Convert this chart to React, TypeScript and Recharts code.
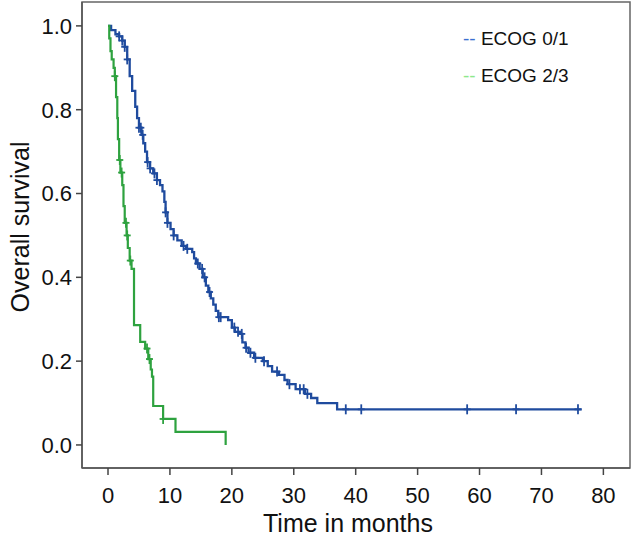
import React from 'react';
import { ComposedChart, Line, Scatter, XAxis, YAxis, ReferenceArea } from 'recharts';

// ---- Data (Kaplan–Meier estimates) ----
const xTicks = [0, 10, 20, 30, 40, 50, 60, 70, 80];
const yTicks = [0, 0.2, 0.4, 0.6, 0.8, 1.0];

const ecog01Times = [0, 0.5, 1.2, 1.8, 2.3, 2.7, 3.1, 3.5, 3.9, 4.4, 4.7, 5.0, 5.4, 5.7, 6.0, 6.3, 6.8, 7.3, 7.9, 8.4, 8.8, 9.1, 9.3, 9.6, 10.1, 10.6, 11.2, 11.9, 12.6, 13.6, 13.9, 14.2, 14.8, 15.3, 15.8, 16.2, 16.6, 17.0, 17.4, 17.8, 19.4, 20.0, 20.5, 21.4, 21.7, 22.2, 22.7, 23.6, 25.0, 25.8, 26.5, 27.6, 28.5, 29.0, 30.3, 31.8, 32.8, 33.8, 37.0, 76.5];
const ecog01Survival = [1.0, 0.99, 0.98, 0.975, 0.965, 0.95, 0.92, 0.88, 0.845, 0.807, 0.78, 0.757, 0.74, 0.72, 0.70, 0.675, 0.66, 0.648, 0.632, 0.62, 0.605, 0.58, 0.555, 0.53, 0.515, 0.50, 0.488, 0.475, 0.468, 0.46, 0.445, 0.433, 0.42, 0.40, 0.38, 0.365, 0.35, 0.335, 0.32, 0.305, 0.298, 0.28, 0.27, 0.265, 0.245, 0.232, 0.22, 0.208, 0.20, 0.188, 0.175, 0.167, 0.155, 0.145, 0.133, 0.122, 0.112, 0.10, 0.085, 0.085];
const ecog01Censored = [1.8, 2.3, 2.7, 3.1, 5.0, 5.3, 5.6, 6.4, 6.8, 7.5, 7.9, 9.3, 9.6, 10.6, 12.2, 12.8, 14.5, 15.2, 15.6, 16.4, 17.9, 18.2, 20.4, 21.0, 21.6, 22.3, 23.0, 23.8, 25.2, 27.3, 29.3, 31.0, 31.6, 32.2, 38.4, 40.9, 58.0, 65.9, 75.9];

const ecog23Times = [0, 0.2, 0.4, 0.6, 0.9, 1.1, 1.3, 1.5, 1.6, 1.8, 2.0, 2.3, 2.5, 2.7, 3.0, 3.2, 3.5, 3.8, 4.2, 5.2, 6.0, 6.5, 6.9, 7.1, 7.3, 8.9, 10.9, 19.0];
const ecog23Survival = [1.0, 0.97, 0.94, 0.92, 0.90, 0.88, 0.83, 0.78, 0.73, 0.68, 0.65, 0.62, 0.57, 0.53, 0.50, 0.47, 0.44, 0.42, 0.286, 0.246, 0.23, 0.205, 0.18, 0.163, 0.093, 0.062, 0.031, 0.0];
const ecog23Censored = [1.1, 1.9, 2.2, 2.9, 3.1, 3.6, 6.3, 6.7, 8.9];

const seriesNames = ['ECOG 0/1', 'ECOG 2/3'];

// ---- Build tables ----
const toSteps = (times: number[], surv: number[]) => times.map((t, i) => ({ t, s: surv[i] }));
const survAt = (times: number[], surv: number[], t: number) => {
  let v = surv[0];
  for (let i = 0; i < times.length; i++) if (times[i] <= t) v = surv[i];
  return v;
};
const toCensor = (times: number[], surv: number[], cens: number[]) =>
  cens.map((t) => ({ t, s: survAt(times, surv, t) }));

const blueSteps = toSteps(ecog01Times, ecog01Survival);
const greenSteps = toSteps(ecog23Times, ecog23Survival);
const blueCensor = toCensor(ecog01Times, ecog01Survival, ecog01Censored);
const greenCensor = toCensor(ecog23Times, ecog23Survival, ecog23Censored);

const BLUE = '#1f4b9e';
const GREEN = '#2ea23f';
const FONT = '"Liberation Sans", Arial, Helvetica, sans-serif';

const makeCross = (color: string) => (props: any) => {
  const { cx, cy } = props;
  if (cx == null || cy == null) return <g />;
  return (
    <g>
      <line x1={cx} y1={cy - 5} x2={cx} y2={cy + 5} stroke={color} strokeWidth={1.8} />
      <line x1={cx - 3.5} y1={cy} x2={cx + 3.5} y2={cy} stroke={color} strokeWidth={1.8} />
    </g>
  );
};

export default function App() {
  return (
    <div style={{ position: 'absolute', left: 0, top: 0, background: '#fff' }}>
      <ComposedChart
        width={642}
        height={541}
        margin={{ top: 2, right: 12, bottom: 33, left: 0 }}
        style={{ fontFamily: FONT }}
      >
        <XAxis
          type="number"
          dataKey="t"
          domain={[-4.2, 84.3]}
          ticks={xTicks}
          allowDataOverflow
          height={40}
          tickSize={7}
          tickMargin={12}
          axisLine={{ stroke: '#555', strokeWidth: 1.5 }}
          tickLine={{ stroke: '#444', strokeWidth: 1.5 }}
          tick={{ fontSize: 22, fill: '#111', fontFamily: FONT }}
        />
        <YAxis
          type="number"
          domain={[-0.055, 1.057]}
          ticks={yTicks}
          allowDataOverflow
          width={82}
          tickSize={6}
          tickMargin={4}
          tickFormatter={(v: number) => v.toFixed(1)}
          axisLine={{ stroke: '#555', strokeWidth: 1.5 }}
          tickLine={{ stroke: '#444', strokeWidth: 1.5 }}
          tick={{ fontSize: 22, fill: '#111', fontFamily: FONT }}
        />
        <ReferenceArea
          x1={-4.2}
          x2={84.3}
          y1={-0.055}
          y2={1.057}
          ifOverflow="visible"
          fill="none"
          fillOpacity={0}
          stroke="#666"
          strokeWidth={1.5}
        />
        <Line
          data={blueSteps}
          dataKey="s"
          type="stepAfter"
          stroke={BLUE}
          strokeWidth={2.3}
          dot={false}
          isAnimationActive={false}
          name={seriesNames[0]}
        />
        <Line
          data={greenSteps}
          dataKey="s"
          type="stepAfter"
          stroke={GREEN}
          strokeWidth={2.2}
          dot={false}
          isAnimationActive={false}
          name={seriesNames[1]}
        />
        <Scatter data={blueCensor} dataKey="s" shape={makeCross(BLUE)} isAnimationActive={false} />
        <Scatter data={greenCensor} dataKey="s" shape={makeCross(GREEN)} isAnimationActive={false} />
        <text x={348} y={532} textAnchor="middle" fontSize={25} fill="#111" fontFamily={FONT}>
          Time in months
        </text>
        <text
          x={29}
          y={227}
          transform="rotate(-90 29 227)"
          textAnchor="middle"
          fontSize={25}
          fill="#111"
          fontFamily={FONT}
        >
          Overall survival
        </text>
        <text x={463} y={45} fontSize={19} fontFamily={FONT} fill="#111">
          <tspan fill="#3b6fd1">--</tspan>
          <tspan> {seriesNames[0]}</tspan>
        </text>
        <text x={463} y={82} fontSize={19} fontFamily={FONT} fill="#111">
          <tspan fill="#8ee88c">--</tspan>
          <tspan> {seriesNames[1]}</tspan>
        </text>
      </ComposedChart>
    </div>
  );
}
